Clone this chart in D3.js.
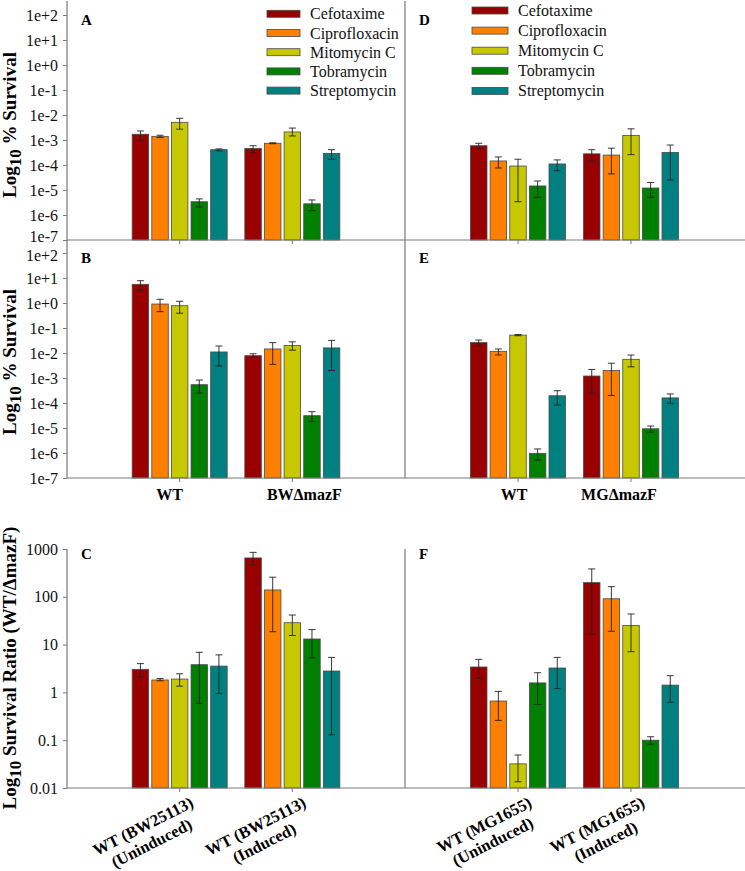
<!DOCTYPE html>
<html><head><meta charset="utf-8">
<script src="https://cdn.jsdelivr.net/npm/d3@7/dist/d3.min.js"></script>
<style>
body{margin:0;background:#fff;}
svg{display:block;font-family:"Liberation Serif","Times New Roman",serif;}
</style></head>
<body>
<svg id="chart" width="745" height="871"></svg>
<script>
// ---------- DATA ----------
const antibiotics = ["Cefotaxime","Ciprofloxacin","Mitomycin C","Tobramycin","Streptomycin"];
const colors = ["#990000","#ff8000","#c8c800","#008000","#008080"];
const groupsBW = ["WT","BWΔmazF"];
const groupsMG = ["WT","MGΔmazF"];
const groupsC = [["WT (BW25113)","(Uninduced)"],["WT (BW25113)","(Induced)"]];
const groupsF = [["WT (MG1655)","(Uninduced)"],["WT (MG1655)","(Induced)"]];
const survivalTicks = [1e2,1e1,1e0,1e-1,1e-2,1e-3,1e-4,1e-5,1e-6,1e-7];
const survivalTickLabels = ["1e+2","1e+1","1e+0","1e-1","1e-2","1e-3","1e-4","1e-5","1e-6","1e-7"];
const ratioTicks = [1000,100,10,1,0.1,0.01];
const ratioTickLabels = ["1000","100","10","1","0.1","0.01"];

// Panel A (BW25113, uninduced)
const aWT    = [1.7e-3, 1.4e-3, 5.1e-3, 3.4e-6, 4.1e-4];
const aWTHi  = [2.3e-3, 1.55e-3, 7.4e-3, 4.4e-6, 4.4e-4];
const aWTLo  = [8.9e-4, 1.25e-3, 2.7e-3, 2.1e-6, 3.7e-4];
const aMut   = [4.6e-4, 7.4e-4, 2.1e-3, 2.8e-6, 2.9e-4];
const aMutHi = [5.9e-4, 7.7e-4, 3.0e-3, 4.0e-6, 4.1e-4];
const aMutLo = [3.1e-4, 7.1e-4, 1.45e-3, 1.5e-6, 1.7e-4];
// Panel B (BW25113, induced)
const bWT    = [5.6, 0.91, 0.78, 5.4e-4, 1.1e-2];
const bWTHi  = [7.8, 1.41, 1.17, 8.3e-4, 1.9e-2];
const bWTLo  = [3.1, 0.45, 0.39, 2.5e-4, 3.0e-3];
const bMut   = [7.8e-3, 1.45e-2, 2.0e-2, 3.1e-5, 1.6e-2];
const bMutHi = [9.3e-3, 2.6e-2, 2.8e-2, 4.5e-5, 3.2e-2];
const bMutLo = [6.8e-3, 3.5e-3, 1.3e-2, 1.8e-5, 2.0e-3];
// Panel C (ratio BW25113)
const cUn    = [3.04, 1.82, 1.9, 3.8, 3.55];
const cUnHi  = [4.0, 1.95, 2.45, 6.9, 6.1];
const cUnLo  = [2.1, 1.75, 1.35, 0.59, 0.95];
const cIn    = [650, 139, 28.7, 13.1, 2.8];
const cInHi  = [850, 257, 41.6, 20.6, 5.4];
const cInLo  = [465, 18.6, 15.5, 5.3, 0.13];
// Panel D (MG1655, uninduced)
const dWT    = [5.9e-4, 1.45e-4, 9.1e-5, 1.45e-5, 1.1e-4];
const dWTHi  = [7.4e-4, 2.1e-4, 1.7e-4, 2.3e-5, 1.6e-4];
const dWTLo  = [4.4e-4, 7.6e-5, 3.4e-6, 5.1e-6, 5.9e-5];
const dMut   = [2.8e-4, 2.5e-4, 1.5e-3, 1.2e-5, 3.2e-4];
const dMutHi = [4.1e-4, 4.7e-4, 2.8e-3, 2.0e-5, 6.3e-4];
const dMutLo = [1.4e-4, 4.4e-5, 2.6e-4, 5.1e-6, 2.5e-5];
// Panel E (MG1655, induced)
const eWT    = [2.6e-2, 1.17e-2, 5.2e-2, 9.7e-7, 1.95e-4];
const eWTHi  = [3.3e-2, 1.45e-2, 5.5e-2, 1.45e-6, 3.1e-4];
const eWTLo  = [1.9e-2, 8.3e-3, 4.9e-2, 5.2e-7, 8.3e-5];
const eMut   = [1.2e-3, 2.0e-3, 5.6e-3, 9.3e-6, 1.6e-4];
const eMutHi = [2.2e-3, 3.9e-3, 8.3e-3, 1.2e-5, 2.3e-4];
const eMutLo = [2.5e-4, 2.0e-4, 2.8e-3, 6.8e-6, 9.8e-5];
// Panel F (ratio MG1655)
const fUn    = [3.4, 0.66, 0.032, 1.58, 3.24];
const fUnHi  = [4.9, 1.05, 0.049, 2.58, 5.4];
const fUnLo  = [1.96, 0.26, 0.0135, 0.56, 1.2];
const fIn    = [198, 91, 25, 0.1, 1.42];
const fInHi  = [383, 163, 43.7, 0.118, 2.24];
const fInLo  = [16.6, 19, 7.1, 0.083, 0.62];

// ---------- LAYOUT ----------
const svg = d3.select("#chart");
const FONT = '"Liberation Serif","Times New Roman",serif';
const AX = "#7a7a7a";
const colX = [[67,405],[405,744]];
const rows = [
  {y:[240,15], top:1, ticks:survivalTicks, labels:survivalTickLabels, dom:[1e-7,1e2], nudgeLast:-4, nudgeFirst:0},
  {y:[478,253], top:240, ticks:survivalTicks, labels:survivalTickLabels, dom:[1e-7,1e2], nudgeLast:0, nudgeFirst:2},
  {y:[788,549], top:549, ticks:ratioTicks, labels:ratioTickLabels, dom:[0.01,1000], nudgeLast:0, nudgeFirst:0}
];
const panels = [
  {row:0,col:0,letter:"A",groups:groupsBW,v:[aWT,aMut],hi:[aWTHi,aMutHi],lo:[aWTLo,aMutLo]},
  {row:1,col:0,letter:"B",groups:groupsBW,v:[bWT,bMut],hi:[bWTHi,bMutHi],lo:[bWTLo,bMutLo]},
  {row:2,col:0,letter:"C",groups:groupsC.map(d=>d.join(" ")),v:[cUn,cIn],hi:[cUnHi,cInHi],lo:[cUnLo,cInLo]},
  {row:0,col:1,letter:"D",groups:groupsMG,v:[dWT,dMut],hi:[dWTHi,dMutHi],lo:[dWTLo,dMutLo]},
  {row:1,col:1,letter:"E",groups:groupsMG,v:[eWT,eMut],hi:[eWTHi,eMutHi],lo:[eWTLo,eMutLo]},
  {row:2,col:1,letter:"F",groups:groupsF.map(d=>d.join(" ")),v:[fUn,fIn],hi:[fUnHi,fInHi],lo:[fUnLo,fInLo]}
];

const inner = d3.scaleBand().domain(antibiotics).range([-47.5,47.5]).paddingInner(0.16).paddingOuter(0);

panels.forEach(p=>{
  const r = rows[p.row];
  const y = d3.scaleLog().domain(r.dom).range(r.y);
  const x = d3.scalePoint().domain(p.groups).range(colX[p.col]).padding(1);
  const g = svg.append("g");
  const base = r.y[0];
  p.groups.forEach((grp,gi)=>{
    const cx = x(grp);
    antibiotics.forEach((ab,ai)=>{
      const bx = cx + inner(ab);
      const val = p.v[gi][ai];
      g.append("rect").attr("x",bx).attr("y",y(val)).attr("width",inner.bandwidth())
        .attr("height",base - y(val)).attr("fill",colors[ai]).attr("stroke","#4a4a4a").attr("stroke-width",0.8);
      const ex = bx + inner.bandwidth()/2;
      const yh = y(p.hi[gi][ai]), yl = y(p.lo[gi][ai]);
      g.append("line").attr("x1",ex).attr("x2",ex).attr("y1",yh).attr("y2",yl).attr("stroke","#222").attr("stroke-width",0.9);
      [yh,yl].forEach(yy=>g.append("line").attr("x1",ex-3.5).attr("x2",ex+3.5).attr("y1",yy).attr("y2",yy).attr("stroke","#222").attr("stroke-width",0.9));
    });
    g.append("line").attr("x1",cx).attr("x2",cx).attr("y1",base).attr("y2",base+4).attr("stroke",AX).attr("stroke-width",1);
  });
  g.append("text").attr("x",colX[p.col][0]+14).attr("y",r.y[1]+10).attr("font-family",FONT)
    .attr("font-weight","bold").attr("font-size",15).text(p.letter);
  if(p.col===0){
    const ax = d3.axisLeft(y).tickValues(r.ticks).tickFormat((d,i)=>r.labels[i]).tickSize(4).tickPadding(5).tickSizeOuter(0);
    const ag = svg.append("g").attr("transform",`translate(${colX[0][0]},0)`).call(ax);
    ag.select(".domain").remove();
    ag.selectAll(".tick line").attr("stroke",AX);
    const n = r.ticks.length;
    ag.selectAll(".tick text").attr("font-family",FONT).attr("font-size",16).attr("fill","#111")
      .attr("y",(d,i)=> i===0 ? r.nudgeFirst : (i===n-1 ? r.nudgeLast : 0));
  }
  svg.append("line").attr("x1",colX[p.col][0]).attr("x2",colX[p.col][0]).attr("y1",r.top).attr("y2",base)
    .attr("stroke",AX).attr("stroke-width",1.2);
  p.x = x; p.y = y;
});

rows.forEach(r=>{
  svg.append("line").attr("x1",67).attr("x2",745).attr("y1",r.y[0]).attr("y2",r.y[0]).attr("stroke",AX).attr("stroke-width",1.2);
});

function legend(x0, y0, step, sw){
  const lg = svg.append("g");
  antibiotics.forEach((ab,i)=>{
    const yy = y0 + i*step;
    lg.append("rect").attr("x",x0).attr("y",yy-3.5).attr("width",sw).attr("height",7)
      .attr("fill",colors[i]).attr("stroke","#4a4a4a").attr("stroke-width",0.8);
    lg.append("text").attr("x",x0+sw+10).attr("y",yy+5.5).attr("font-family",FONT).attr("font-size",16).attr("fill","#111").text(ab);
  });
}
legend(267, 13.8, 19.2, 33);
legend(472, 10.5, 20.1, 36);

const xLabOffsets = [[-10,12],[-4,-12]];
[panels[1],panels[4]].forEach((p,k)=>{
  p.groups.forEach((grp,gi)=>{
    svg.append("text").attr("x",p.x(grp)+xLabOffsets[k][gi]).attr("y",500).attr("text-anchor","middle")
      .attr("font-family",FONT).attr("font-weight","bold").attr("font-size",16).text(grp);
  });
});

[[panels[2],groupsC],[panels[5],groupsF]].forEach(([p,labs])=>{
  p.groups.forEach((grp,gi)=>{
    const cx = p.x(grp);
    const tg = svg.append("g").attr("transform",`translate(${cx},788) rotate(-27)`);
    const t1 = tg.append("text").attr("x",5).attr("y",23).attr("text-anchor","end")
      .attr("font-family",FONT).attr("font-weight","bold").attr("font-size",16.5).text(labs[gi][0]);
    const L = t1.node().getComputedTextLength();
    tg.append("text").attr("x",5-L/2).attr("y",42).attr("text-anchor","middle")
      .attr("font-family",FONT).attr("font-weight","bold").attr("font-size",16.5).text(labs[gi][1]);
  });
});

function ytitle(cy, rest){
  const t = svg.append("text").attr("transform",`translate(16,${cy}) rotate(-90)`).attr("text-anchor","middle")
    .attr("font-family",FONT).attr("font-weight","bold").attr("font-size",19);
  t.append("tspan").text("Log");
  t.append("tspan").attr("font-size",17).attr("dy",5).text("10");
  t.append("tspan").attr("dy",-5).text(rest);
}
ytitle(125, "\u00a0% Survival");
ytitle(362, "\u00a0% Survival");
ytitle(668, "\u00a0Survival Ratio (WT/ΔmazF)");
</script>
</body></html>
